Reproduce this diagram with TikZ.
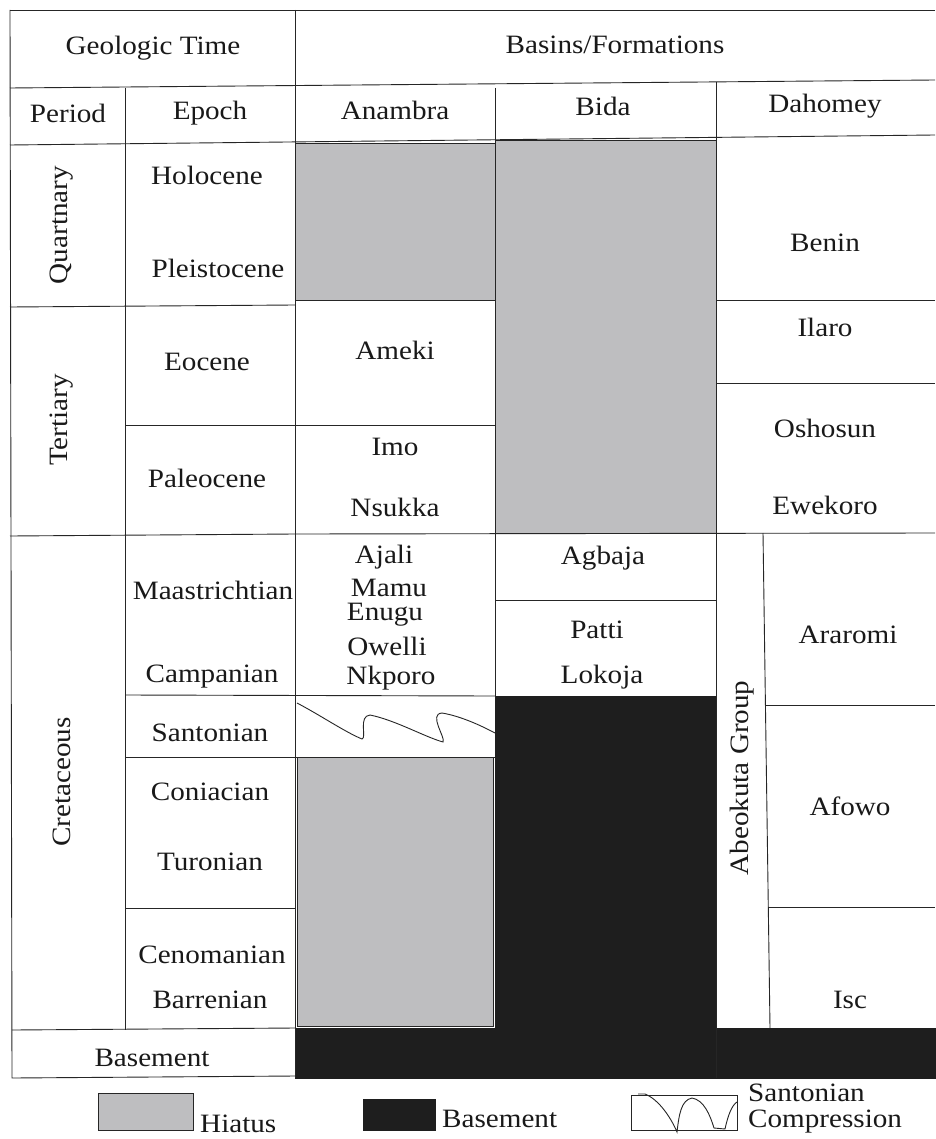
\documentclass[tikz,border=0pt]{standalone}
\usepackage{fontspec}
\setmainfont{Liberation Serif}[FakeStretch=1.1]
\begin{document}
\begin{tikzpicture}[x=1pt,y=-1pt,
  grid/.style={draw=black!85,line width=0.9pt},
  hiatus/.style={fill=hiatusgray,draw=black!85,line width=0.9pt},
  base/.style={fill=basementblack,draw=basementblack},
  lbl/.style={font=\fontsize{26.5}{30}\selectfont,inner sep=0pt,text=black!90},
  rot/.style={lbl,rotate=90}]
\definecolor{hiatusgray}{RGB}{190,190,192}
\definecolor{basementblack}{RGB}{30,30,30}
\useasboundingbox (0,0) rectangle (935,1139);
\fill[white] (0,0) rectangle (935,1139);
% fills
\path[hiatus] (295,143) rectangle (495,300);
\path[hiatus] (495,140) rectangle (716,533);
\path[hiatus] (297,757) rectangle (493,1026);
\path[base] (495,696) rectangle (716,1078);
\path[base] (295,1028) rectangle (935,1078);
% frame
\draw[grid] (10,10) -- (935,10);
\draw[grid] (10,10) -- (12,1078) -- (295,1076);
\draw[grid] (10,88) -- (935,80);
\draw[grid] (10,145) -- (935,135);
\draw[grid] (125,88) -- (125,1030);
\draw[grid] (295,10) -- (295,1078);
\draw[grid] (495,88) -- (495,696);
\draw[grid] (716,82) -- (716,1078);
% time rows
\draw[grid] (10,307) -- (295,305);
\draw[grid] (125,425) -- (495,425);
\draw[grid] (10,536) -- (295,534) -- (935,533);
\draw[grid] (125,695) -- (495,696);
\draw[grid] (125,757) -- (495,757);
\draw[grid] (125,908) -- (295,908);
\draw[grid] (12,1030) -- (295,1028);
% Bida
\draw[grid] (495,600) -- (716,600);
% Dahomey
\draw[grid] (716,300) -- (935,300);
\draw[grid] (716,383) -- (935,383);
\draw[grid] (763,533) -- (770,1028);
\draw[grid] (765,705) -- (935,705);
\draw[grid] (768,907) -- (935,907);
% Santonian compression in Anambra
\draw[black!85,line width=0.9pt] (297,703) .. controls (320,715) and (345,732) .. (362,739)
  .. controls (367,738) and (358,716) .. (370,715)
  .. controls (395,720) and (425,737) .. (443,742)
  .. controls (446,738) and (428,714) .. (442,713)
  .. controls (460,716) and (480,725) .. (495,733);
% headers
\node[lbl] (gt) at (153,48) {Geologic Time};
\node[lbl] (bf) at (615,45) {Basins/Formations};
\node[lbl] (period) at (68,113) {Period};
\node[lbl] (epoch) at (210,113) {Epoch};
\node[lbl] (anambra) at (395,110) {Anambra};
\node[lbl] (bida) at (603,106) {Bida};
\node[lbl] (dahomey) at (825,106) {Dahomey};
% periods
\node[rot] (quart) at (62,225) {Quartnary};
\node[rot] (tert) at (62,420) {Tertiary};
\node[rot] (cret) at (62,782) {Cretaceous};
% epochs
\node[lbl] (holo) at (207,175) {Holocene};
\node[lbl] (pleist) at (218,268) {Pleistocene};
\node[lbl] (eoc) at (207,362) {Eocene};
\node[lbl] (paleo) at (207,478) {Paleocene};
\node[lbl] (maas) at (213,590) {Maastrichtian};
\node[lbl] (camp) at (212,677) {Campanian};
\node[lbl] (sant) at (210,733) {Santonian};
\node[lbl] (coni) at (210,792) {Coniacian};
\node[lbl] (turo) at (210,862) {Turonian};
\node[lbl] (ceno) at (212,955) {Cenomanian};
\node[lbl] (barr) at (210,1000) {Barrenian};
\node[lbl] (basem) at (152,1058) {Basement};
% Anambra
\node[lbl] (ameki) at (395,350) {Ameki};
\node[lbl] (imo) at (395,447) {Imo};
\node[lbl] (nsukka) at (395,507) {Nsukka};
\node[lbl] (ajali) at (384,557) {Ajali};
\node[lbl] (mamu) at (389,588) {Mamu};
\node[lbl] (enugu) at (385,615) {Enugu};
\node[lbl] (owelli) at (387,646) {Owelli};
\node[lbl] (nkporo) at (391,678) {Nkporo};
% Bida
\node[lbl] (agbaja) at (603,558) {Agbaja};
\node[lbl] (patti) at (597,630) {Patti};
\node[lbl] (lokoja) at (602,677) {Lokoja};
% Dahomey
\node[lbl] (benin) at (825,243) {Benin};
\node[lbl] (ilaro) at (825,327) {Ilaro};
\node[lbl] (oshosun) at (825,428) {Oshosun};
\node[lbl] (ewekoro) at (825,505) {Ewekoro};
\node[rot] (abeo) at (742,778) {Abeokuta Group};
\node[lbl] (araromi) at (848,635) {Araromi};
\node[lbl] (afowo) at (850,806) {Afowo};
\node[lbl] (isc) at (850,1000) {Isc};
% legend
\path[hiatus] (98,1093) rectangle (193,1130);
\node[lbl,anchor=west] (lhiatus) at (200,1124) {Hiatus};
\path[base] (363,1099) rectangle (435,1130);
\node[lbl,anchor=west] (lbase) at (442,1119) {Basement};
\draw[grid] (631,1095) rectangle (737,1130);
\draw[black!85,line width=0.9pt] (638,1094) -- (645,1094)
  .. controls (660,1100) and (672,1120) .. (677,1132)
  .. controls (679,1115) and (681,1100) .. (692,1098)
  .. controls (704,1100) and (710,1115) .. (714,1128) -- (725,1129)
  .. controls (728,1115) and (732,1105) .. (737,1102);
\node[lbl,anchor=west] (lsant) at (748,1093) {Santonian};
\node[lbl,anchor=west] (lcomp) at (748,1122) {Compression};
\end{tikzpicture}
\end{document}
